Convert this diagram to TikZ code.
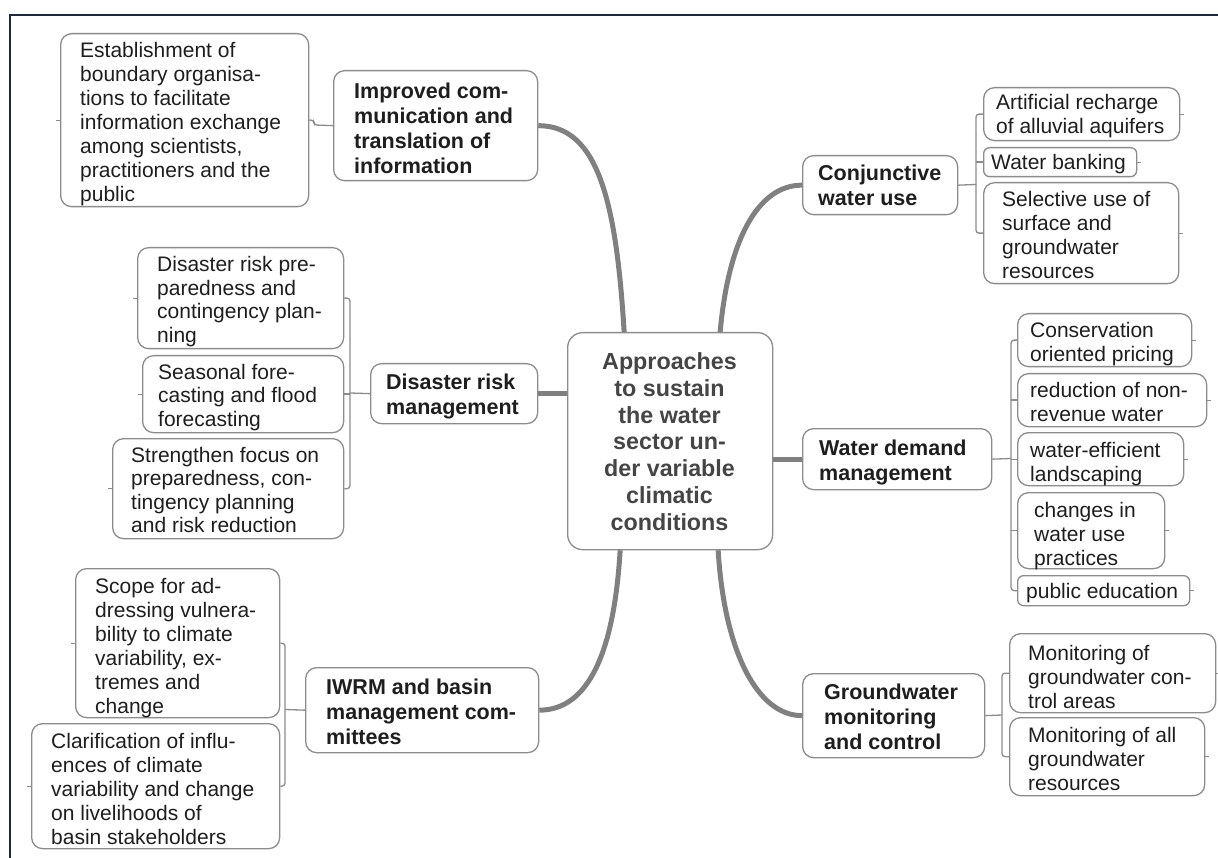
\documentclass[tikz,border=0pt]{standalone}
\usepackage{fontspec}
\setmainfont{Liberation Sans}
\definecolor{boxgray}{HTML}{8C8C8C}
\definecolor{maingray}{HTML}{808080}
\definecolor{txtcol}{HTML}{1E1E1E}
\definecolor{centxt}{HTML}{454545}
\definecolor{framecol}{HTML}{1B2A41}
\newcommand{\leaffont}{\fontsize{21}{24}\selectfont}
\newcommand{\branchfont}{\fontsize{21.5}{25}\selectfont\bfseries}
\newcommand{\centfont}{\fontsize{23.3}{26.7}\selectfont\bfseries}
\begin{document}
\begin{tikzpicture}[x=1pt,y=-1pt,
  box/.style={draw=boxgray, line width=1.3pt, rounded corners=11pt, inner sep=0pt, fill=white, anchor=north west},
  txt/.style={inner sep=0pt, anchor=base west, align=left, font=\leaffont, text=txtcol},
  btxt/.style={inner sep=0pt, anchor=base west, align=left, font=\branchfont, text=txtcol},
  main/.style={draw=maingray, line width=5pt},
  br/.style={draw=boxgray, line width=1.3pt, rounded corners=3pt},
  stub/.style={draw=boxgray, line width=1pt},
  frameline/.style={draw=framecol, line width=2.5pt}]
\useasboundingbox[fill=white] (0,0) rectangle (1218,858);
\draw[frameline] (10,858) -- (10,15) -- (1218,15);

% boxes
\node[box, minimum width=248, minimum height=173] (est) at (60,33) {};
\node[box, minimum width=204, minimum height=110] (imp) at (333,70) {};
\node[box, minimum width=206, minimum height=101] (dl1) at (137,247) {};
\node[box, minimum width=201, minimum height=77] (dl2) at (142,355) {};
\node[box, minimum width=231, minimum height=100] (dl3) at (112,438) {};
\node[box, minimum width=167, minimum height=60] (drm) at (370,363) {};
\node[box, rounded corners=15pt, minimum width=205, minimum height=217] (cen) at (567,332) {};
\node[box, minimum width=233, minimum height=85] (iwrm) at (305,667) {};
\node[box, minimum width=204, minimum height=149] (scope) at (75,568) {};
\node[box, minimum width=248, minimum height=125] (clar) at (31,723) {};
\node[box, minimum width=155, minimum height=59] (conj) at (802,155) {};
\node[box, minimum width=196, minimum height=53] (art) at (983,87) {};
\node[box, rounded corners=6pt, minimum width=153, minimum height=29] (bank) at (983,147) {};
\node[box, minimum width=195, minimum height=101] (sel) at (983,182) {};
\node[box, minimum width=189, minimum height=61] (wdm) at (802,428) {};
\node[box, minimum width=174, minimum height=53] (cons) at (1017,313) {};
\node[box, minimum width=189, minimum height=53] (red) at (1017,373) {};
\node[box, minimum width=166, minimum height=53] (eff) at (1017,432) {};
\node[box, minimum width=147, minimum height=76] (chg) at (1017,492) {};
\node[box, rounded corners=6pt, minimum width=172, minimum height=30] (pub) at (1017,575) {};
\node[box, minimum width=182, minimum height=84] (gmc) at (802,673) {};
\node[box, minimum width=206, minimum height=79] (mon1) at (1009,633) {};
\node[box, minimum width=195, minimum height=78] (mon2) at (1009,717) {};

% texts (anchored at the baseline of the last line)
\node[txt] (estT) at (80,202) {Establishment of\\boundary organisa-\\tions to facilitate\\information exchange\\among scientists,\\practitioners and the\\public};
\node[btxt] (impT) at (354,174) {Improved com-\\munication and\\translation of\\information};
\node[txt, font=\fontsize{21}{23.5}\selectfont] (dl1T) at (157,342.5) {Disaster risk pre-\\paredness and\\contingency plan-\\ning};
\node[txt, font=\fontsize{21}{23.5}\selectfont] (dl2T) at (158,426) {Seasonal fore-\\casting and flood\\forecasting};
\node[txt, font=\fontsize{21}{23.5}\selectfont] (dl3T) at (131,532.5) {Strengthen focus on\\preparedness, con-\\tingency planning\\and risk reduction};
\node[btxt] (drmT) at (386,414) {Disaster risk\\management};
\node[inner sep=0pt, anchor=base, align=center, font=\centfont, text=centxt] (cenT) at (669.5,530) {Approaches\\to sustain\\the water\\sector un-\\der variable\\climatic\\conditions};
\node[btxt] (iwrmT) at (326,744) {IWRM and basin\\management com-\\mittees};
\node[txt] (scopeT) at (95,713) {Scope for ad-\\dressing vulnera-\\bility to climate\\variability, ex-\\tremes and\\change};
\node[txt] (clarT) at (51,844) {Clarification of influ-\\ences of climate\\variability and change\\on livelihoods of\\basin stakeholders};
\node[btxt] (conjT) at (818,206) {Conjunctive\\water use};
\node[txt] (artT) at (996,134) {Artificial recharge\\of alluvial aquifers};
\node[txt] (bankT) at (991,170) {Water banking};
\node[txt] (selT) at (1002,279) {Selective use of\\surface and\\groundwater\\resources};
\node[btxt] (wdmT) at (819,480) {Water demand\\management};
\node[txt] (consT) at (1030,362) {Conservation\\oriented pricing};
\node[txt] (redT) at (1030,421) {reduction of non-\\revenue water};
\node[txt] (effT) at (1030,481) {water-efficient\\landscaping};
\node[txt] (chgT) at (1034,565) {changes in\\water use\\practices};
\node[txt] (pubT) at (1026,598) {public education};
\node[btxt] (gmcT) at (824,749) {Groundwater\\monitoring\\and control};
\node[txt] (mon1T) at (1028,708) {Monitoring of\\groundwater con-\\trol areas};
\node[txt] (mon2T) at (1028,790) {Monitoring of all\\groundwater\\resources};

% main connectors
\draw[main] ([xshift=-46pt]cen.north) .. controls +(-8,-130) and +(60,0) .. (imp.east);
\draw[main] ([xshift=50pt]cen.north) .. controls +(8,-90) and +(-45,0) .. (conj.west);
\draw[main] ([xshift=-50pt]cen.south) .. controls +(-6,100) and +(50,0) .. (iwrm.east);
\draw[main] ([xshift=48pt]cen.south) .. controls +(6,100) and +(-45,0) .. (gmc.west);
\draw[main] (cen.west |- drm.east) -- (drm.east);
\draw[main] (cen.east |- wdm.west) -- (wdm.west);

% brackets
\coordinate (bI) at (314,125);
\draw[br] (imp.west) -- (bI) |- (est.east);
\coordinate (bD) at (350,393);
\draw[br] (dl1.east) -| (bD) |- (dl3.east);
\draw[br] (dl2.east) -- (dl2.east -| bD);
\draw[br] (bD) -- (drm.west);
\coordinate (bW) at (285,709.5);
\draw[br] (scope.east) -| (bW) |- (clar.east);
\draw[br] (bW) -- (iwrm.west);
\coordinate (bC) at (976,184.5);
\draw[br] (art.west) -| (bC) |- (sel.west);
\draw[br] (bank.west) -- (bank.west -| bC);
\draw[br] (conj.east) -- (bC);
\coordinate (bM) at (1011,458.5);
\draw[br] (cons.west) -| (bM) |- (pub.west);
\draw[br] (red.west) -- (red.west -| bM);
\draw[br] (eff.west) -- (eff.west -| bM);
\draw[br] (chg.west) -- (chg.west -| bM);
\draw[br] (wdm.east) -- (bM);
\coordinate (bG) at (1002,715);
\draw[br] (mon1.west) -| (bG) |- (mon2.west);
\draw[br] (gmc.east) -- (bG);

% small outer stubs
\foreach \n in {est,dl1,dl2,dl3,scope,clar} \draw[stub] (\n.west) -- ++(-4,0);
\foreach \n in {art,bank,sel,cons,red,eff,chg,pub,mon1,mon2} \draw[stub] (\n.east) -- ++(4,0);
\end{tikzpicture}
\end{document}
